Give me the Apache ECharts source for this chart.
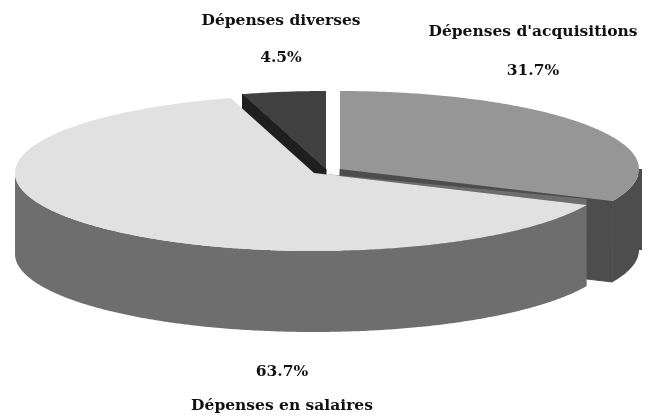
<!DOCTYPE html>
<html>
<head>
<meta charset="utf-8">
<style>html,body{margin:0;padding:0;background:#fff}#c{width:653px;height:417px}</style>
<script src="https://cdn.jsdelivr.net/npm/echarts@6/dist/echarts.min.js"></script>
</head>
<body>
<div id="c"></div>
<script>
var categories = ["Dépenses d'acquisitions", "Dépenses en salaires", "Dépenses diverses"];
var shares = [31.7, 63.7, 4.5];

var chart = echarts.init(document.getElementById('c'), null, {renderer: 'canvas'});
var RX = 299, RY = 78, DEPTH = 81, LIP = 6, FONT = '"DejaVu Serif"';
var looks = [
  {cx: 340, cy: 169, top: '#969696', wall: '#4d4d4d', edge: '#4d4d4d', z: 1, bulge: 3},
  {cx: 314, cy: 173, top: '#e1e1e1', wall: '#6e6e6e', edge: '#6e6e6e', z: 3, bulge: 0},
  {cx: 326, cy: 169, top: '#404040', wall: '#1f1f1f', edge: '#1f1f1f', z: 2, bulge: 0}
];
var labelSpots = [
  {x: 533, name: 32, pct: 71},
  {x: 282, name: 406, pct: 372},
  {x: 281, name: 21, pct: 58}
];
var total = shares.reduce(function (a, b) { return a + b; }, 0);

function pt(l, t, dy) {
  return [l.cx + RX * Math.sin(t), l.cy - RY * Math.cos(t) + (dy || 0)];
}
function arc(l, a, b, dy) {
  var out = [], n = Math.max(2, Math.ceil(Math.abs(b - a) / 0.01));
  for (var i = 0; i <= n; i++) out.push(pt(l, a + (b - a) * i / n, dy));
  return out;
}
function renderSlice(params, api) {
  var i = params.dataIndex, l = looks[i], value = api.value(0), before = 0;
  for (var k = 0; k < i; k++) before += shares[k];
  var a = before / total * 2 * Math.PI, b = (before + value) / total * 2 * Math.PI;
  var kids = [];
  function poly(points, fill, z2, seal) {
    kids.push({type: 'polygon', z2: l.z * 10 + z2, shape: {points: points},
      style: {fill: fill, stroke: seal ? fill : null, lineWidth: seal ? 1 : 0}});
  }
  var apex = [l.cx, l.cy];
  var edgeAngle = (i === 2) ? a : b;
  var tip = pt(l, edgeAngle);
  if (i !== 1) poly([apex, tip, [tip[0], tip[1] + DEPTH], [apex[0], apex[1] + DEPTH]], l.edge, 0, true);
  var lo = Math.max(a, Math.PI / 2), hi = Math.min(b, 3 * Math.PI / 2);
  if (hi > lo) {
    poly(arc(l, lo, hi, 0).concat(arc(l, hi, lo, DEPTH)), l.wall, 1, false);
  }
  if (l.bulge) {
    kids.push({type: 'rect', z2: l.z * 10, shape: {x: l.cx + RX - 1, y: l.cy, width: l.bulge + 1, height: DEPTH},
      style: {fill: l.wall}});
  }
  if (i === 1) {
    var start = pt(l, a);
    poly([apex, start, [start[0], start[1] - LIP]], l.wall, 0, false);
  }
  poly([apex].concat(arc(l, a, b, 0)), l.top, 2, false);
  var s = labelSpots[i];
  var font = 'bold 15.5px ' + FONT;
  kids.push({type: 'text', z2: 100, style: {text: categories[i], x: s.x, y: s.name, font: font, fill: '#111',
    align: 'center', verticalAlign: 'middle'}});
  kids.push({type: 'text', z2: 100, style: {text: value.toFixed(1) + '%', x: s.x, y: s.pct, font: font, fill: '#111',
    align: 'center', verticalAlign: 'middle'}});
  return {type: 'group', children: kids};
}
chart.setOption({
  animation: false,
  backgroundColor: '#ffffff',
  series: [{
    type: 'custom',
    coordinateSystem: 'none',
    silent: true,
    renderItem: renderSlice,
    data: shares.map(function (v) { return [v]; })
  }]
});
</script>
</body>
</html>
